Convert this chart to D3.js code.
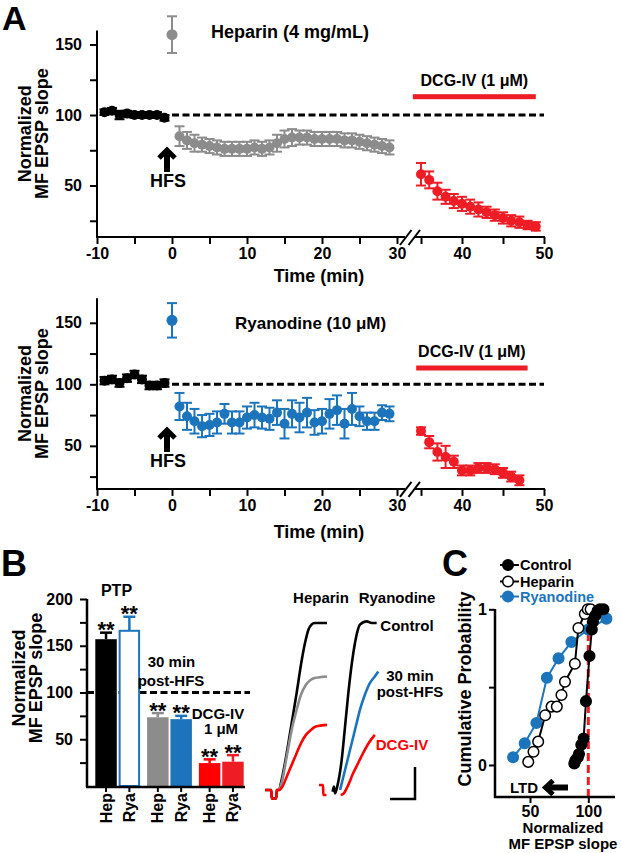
<!DOCTYPE html>
<html><head><meta charset="utf-8">
<script src="https://cdn.jsdelivr.net/npm/d3@7"></script>
<style>body{margin:0;background:#fff}svg{display:block}</style>
</head><body><svg id="c" width="622" height="853"></svg>
<script>
// ---------------- DATA ----------------
// Panel A (time in min)
const baseTimes = [-9,-8,-7,-6,-5,-4,-3,-2,-1];
const postTimes = [1,2,3,4,5,6,7,8,9,10,11,12,13,14,15,16,17,18,19,20,21,22,23,24,25,26,27,28,29];
const hepDcgTimes = [35,36,37,38,39,40,41,42,43,44,45,46,47,48,49];
const ryaDcgTimes = [35,36,37,38,39,40,41,42,43,44,45,46,47];

const hepBaseVals = [102,103,100,101,100,100,100,100,98];
const hepBaseErr  = [2,2,3,2,2,2,2,2,2];
const hepPTP = [157, 13];
const hepPostVals = [85,82,80,79,78,77,76,76,76,76,77,76,77,80,83,84,84,84,83,83,83,83,82,82,81,80,79,78,77];
const hepPostErr  = [7,6,6,5,5,5,5,5,5,5,5,5,5,6,6,6,5,5,5,5,5,5,5,5,5,5,5,5,5];
const hepDcgVals = [58,54,46,42,39,37,35,33,31,29,27,25,24,22,21];
const hepDcgErr  = [8,6,6,5,5,5,5,5,4,4,4,4,4,3,3];
const hepDcgPeriod = [33.3, 49];

const ryaBaseVals = [103,104,101,105,108,104,99,99,101];
const ryaBaseErr  = [3,3,3,3,3,3,3,3,3];
const ryaPTP = [152, 14];
const ryaPostVals = [82,74,70,66,67,69,76,69,69,73,75,73,72,77,68,76,73,77,69,70,76,79,68,80,74,70,70,77,76];
const ryaPostErr  = [11,11,10,9,9,9,8,9,9,9,10,9,9,10,12,11,12,12,10,10,12,12,12,13,8,7,7,6,6];
const ryaDcgVals = [62,53,45,41,37,30,30,32,32,31,28,25,22];
const ryaDcgErr  = [3,5,7,9,5,4,4,4,4,4,4,4,4];
const ryaDcgPeriod = [34, 48];

const refLine = [0, 50];
const yTicksA = [25,50,75,100,125,150];
const yLabelsA = [50,100,150];
const xTicksA = [-10,-5,0,5,10,15,20,25,30,35,40,45,50];
const xLabelsA = [-10,0,10,20,30,40,50];

// Panel B
const barGroups = ['PTP','30 min','DCG-IV'];
const barDrugs = ['Hep','Rya'];
const barVals = [157,166,73.5,71.5,24.5,26];
const barErr  = [7,15,4.5,3.5,4,7];
const barSig  = ['**','**','**','**','**','**'];
const yTicksB = [25,50,75,100,125,150,175,200];
const yLabelsB = [50,100,150,200];

// Traces (ms, normalized amplitude)
const trHepCtrl = [[0,0],[1.0,0],[1.1,-0.05],[1.8,-0.05],[1.9,0],[2.3,0],[2.5,0.03],[2.8,0.08],[3.5,0.22],[4.3,0.40],[5.1,0.58],[5.8,0.75],[6.45,0.88],[7.0,0.96],[7.5,0.99],[8.0,1.0],[9.0,1.0],[10,1.0]];
const trHepPost = [[2.3,0],[2.8,0.06],[3.5,0.2],[4.3,0.36],[5.1,0.48],[5.8,0.57],[6.6,0.63],[7.4,0.66],[8.0,0.67],[10,0.68]];
const trHepDcg  = [[0,0],[1.0,0],[1.1,-0.05],[1.8,-0.05],[1.9,0],[2.3,0],[2.8,0.02],[3.5,0.08],[4.3,0.15],[5.1,0.22],[5.8,0.28],[6.6,0.33],[7.4,0.36],[8.2,0.38],[10,0.39]];
const trRyaArt  = [[0,0.03],[0.65,0.03],[0.7,-0.03],[1.2,-0.03]];
const trRyaCtrl = [[2.2,-0.01],[2.4,0.02],[2.6,-0.02],[3.0,0.03],[3.66,0.18],[4.2,0.38],[4.73,0.58],[5.3,0.76],[5.8,0.88],[6.2,0.95],[6.6,0.99],[7.7,1.01],[8.5,1.0],[9.3,1.0]];
const trRyaPost = [[3.4,0],[4.2,0.12],[5.27,0.28],[6.0,0.39],[6.6,0.48],[7.4,0.57],[8.2,0.64],[9.0,0.68],[9.56,0.71]];
const trRyaDcg  = [[3.5,-0.03],[4.0,-0.02],[4.6,0.02],[5.5,0.10],[6.3,0.16],[7.1,0.22],[8.0,0.28],[9.0,0.33]];

// Panel C cumulative distributions
const cdfCtrlX = [88,89,91,92,94,96,98,101,103,104,106,108,110,113];
const cdfCtrlY = [0.01,0.03,0.05,0.07,0.13,0.17,0.41,0.70,0.87,0.92,0.96,0.99,1.0,1.0];
const cdfHepX = [48.5,53,57,63,68.5,73,77,80,88.5,91.5,97,99.5,102];
const cdfHepY = [0.02,0.085,0.15,0.32,0.375,0.375,0.45,0.535,0.65,0.88,0.97,1.0,1.0];
const cdfRyaX = [35.5,45.5,55.5,64.5,74.5,85.5,100,115.5];
const cdfRyaY = [0.05,0.14,0.27,0.56,0.685,0.79,0.87,0.94];
const legendC = ['Control','Heparin','Ryanodine'];

// ---------------- DRAW ----------------
const F = "'Liberation Sans', Arial, Helvetica, sans-serif";
const GRAY='#8c8c8c', BLUE='#1c75bc', RED='#ee1c25';
const svg = d3.select('#c');
svg.append('rect').attr('width',622).attr('height',853).attr('fill','#fff');

function txt(g, x, y, s, size, o={}) {
  const t = g.append('text').attr('x',x).attr('y',y).text(s)
    .attr('font-size',size).attr('font-weight','bold').attr('font-family',F)
    .attr('text-anchor',o.anchor||'start').attr('fill',o.fill||'#000');
  if (o.rot) t.attr('transform',`rotate(-90,${x},${y})`);
  return t;
}
function styleAxis(g, size) {
  g.attr('font-family',F).attr('font-size',size).attr('font-weight','bold');
  g.select('path.domain').remove();
  g.selectAll('line').attr('stroke','#000').attr('stroke-width',2);
  g.selectAll('text').attr('fill','#000');
}
function dots(g, xs, ys, es, x, y, color, r) {
  const d = xs.map((t,i)=>({t, v:ys[i], e:es[i]}));
  g.selectAll(null).data(d).enter().append('line')
    .attr('x1',p=>x(p.t)).attr('x2',p=>x(p.t)).attr('y1',p=>y(p.v-p.e)).attr('y2',p=>y(p.v+p.e))
    .attr('stroke',color).attr('stroke-width',2);
  [-1,1].forEach(s=>{
    g.selectAll(null).data(d).enter().append('line')
      .attr('x1',p=>x(p.t)-5).attr('x2',p=>x(p.t)+5).attr('y1',p=>y(p.v+s*p.e)).attr('y2',p=>y(p.v+s*p.e))
      .attr('stroke',color).attr('stroke-width',2);
  });
  g.selectAll(null).data(d).enter().append('circle')
    .attr('cx',p=>x(p.t)).attr('cy',p=>y(p.v)).attr('r',r).attr('fill',color);
}
function upArrow(g, x, top, bottom) {
  g.append('line').attr('x1',x).attr('x2',x).attr('y1',top+4).attr('y2',bottom).attr('stroke','#000').attr('stroke-width',6);
  g.append('polyline').attr('points',`${x-8},${top+11} ${x},${top+3} ${x+8},${top+11}`)
    .attr('fill','none').attr('stroke','#000').attr('stroke-width',5).attr('stroke-linejoin','miter');
}

const xA = d3.scaleLinear().domain([-10,30,35,50]).range([97,397,421,544]);

function panelA(o) {
  const g = svg.append('g');
  const y = o.y;
  const axisY = y.range()[0], topY = y.range()[1];
  g.append('line').attr('x1',xA(refLine[0])).attr('x2',xA(refLine[1])).attr('y1',y(100)).attr('y2',y(100))
    .attr('stroke','#000').attr('stroke-width',3).attr('stroke-dasharray','7,3.5');
  const ya = g.append('g').attr('transform','translate(97,0)')
    .call(d3.axisLeft(y).tickValues(yTicksA).tickSize(7).tickPadding(8).tickFormat(d=>yLabelsA.includes(d)?d:''));
  styleAxis(ya,16);
  g.append('line').attr('x1',97).attr('x2',97).attr('y1',topY).attr('y2',axisY+1).attr('stroke','#000').attr('stroke-width',2);
  const xa = g.append('g').attr('transform',`translate(0,${axisY})`)
    .call(d3.axisBottom(xA).tickValues(xTicksA).tickSize(7).tickPadding(4).tickFormat(d=>xLabelsA.includes(d)?d:''));
  styleAxis(xa,16);
  g.append('line').attr('x1',96).attr('x2',405).attr('y1',axisY).attr('y2',axisY).attr('stroke','#000').attr('stroke-width',2);
  g.append('line').attr('x1',414).attr('x2',545).attr('y1',axisY).attr('y2',axisY).attr('stroke','#000').attr('stroke-width',2);
  [[400,411.5],[408.5,420]].forEach(([a,b])=>{
    g.append('line').attr('x1',a).attr('x2',b).attr('y1',axisY+8).attr('y2',axisY-7).attr('stroke','#000').attr('stroke-width',2);
  });
  const cy = (axisY+topY)/2;
  txt(g, 31, cy, 'Normalized', 18, {anchor:'middle', rot:true});
  txt(g, 48, cy, 'MF EPSP slope', 18, {anchor:'middle', rot:true});
  txt(g, 319, o.timeY, 'Time (min)', 18, {anchor:'middle'});
  g.append('rect').attr('x',xA(o.period[0])).attr('width',xA(o.period[1])-xA(o.period[0]))
    .attr('y',o.barY-2.5).attr('height',5).attr('fill',RED);
  txt(g, (xA(o.period[0])+xA(o.period[1]))/2, o.barY-11, 'DCG-IV (1 μM)', 16, {anchor:'middle'});
  dots(g, baseTimes, o.base, o.baseErr, xA, y, '#000', 5);
  dots(g, [0], [o.ptp[0]], [o.ptp[1]], xA, y, o.color, 5.5);
  dots(g, postTimes, o.post, o.postErr, xA, y, o.color, 5);
  dots(g, o.dcgT, o.dcg, o.dcgErr, xA, y, RED, 5);
  txt(g, o.titleX, o.titleY, o.title, o.titleSize, {});
  upArrow(g, xA(0)-5, o.arrowTop, o.arrowTop+25);
  txt(g, xA(0)-4, o.arrowTop+40, 'HFS', 18, {anchor:'middle'});
}

panelA({
  y: d3.scaleLinear().domain([13.5,160]).range([237,30.4]),
  base: hepBaseVals, baseErr: hepBaseErr, ptp: hepPTP, post: hepPostVals, postErr: hepPostErr,
  dcgT: hepDcgTimes, dcg: hepDcgVals, dcgErr: hepDcgErr, color: GRAY, period: hepDcgPeriod,
  barY: 96.7, timeY: 281.5, title: 'Heparin (4 mg/mL)', titleX: 211, titleY: 38, titleSize: 18, arrowTop: 147
});
panelA({
  y: d3.scaleLinear().domain([15,170]).range([488.9,298.2]),
  base: ryaBaseVals, baseErr: ryaBaseErr, ptp: ryaPTP, post: ryaPostVals, postErr: ryaPostErr,
  dcgT: ryaDcgTimes, dcg: ryaDcgVals, dcgErr: ryaDcgErr, color: BLUE, period: ryaDcgPeriod,
  barY: 368, timeY: 538, title: 'Ryanodine (10 μM)', titleX: 235, titleY: 329, titleSize: 17, arrowTop: 427
});
txt(svg, 2, 30, 'A', 34, {});

// ---------------- Panel B ----------------
(function(){
  const g = svg.append('g');
  const y = d3.scaleLinear().domain([0,200]).range([786,599]);
  const gx = d3.scaleBand().domain(barGroups).range([95.3,243.7]).paddingInner(0.135);
  const ix = d3.scaleBand().domain(barDrugs).range([0,gx.bandwidth()]).paddingInner(0.08);
  const fills = ['#000','#fff',GRAY,BLUE,'#ff0000',RED];
  const strokes = ['#000',BLUE,GRAY,BLUE,'#ff0000',RED];
  const data = barVals.map((v,i)=>({v, e:barErr[i], g:barGroups[Math.floor(i/2)], d:barDrugs[i%2], i}));
  const bx = p => gx(p.g)+ix(p.d);
  const bw = ix.bandwidth();
  g.append('line').attr('x1',87).attr('x2',250).attr('y1',y(100)).attr('y2',y(100))
    .attr('stroke','#000').attr('stroke-width',3).attr('stroke-dasharray','7,3.5');
  data.forEach(p=>{
    const cx = bx(p)+bw/2;
    g.append('line').attr('x1',cx).attr('x2',cx).attr('y1',y(p.v)).attr('y2',y(p.v+p.e)).attr('stroke',strokes[p.i]).attr('stroke-width',2.5);
    g.append('line').attr('x1',cx-6).attr('x2',cx+6).attr('y1',y(p.v+p.e)).attr('y2',y(p.v+p.e)).attr('stroke',strokes[p.i]).attr('stroke-width',2.5);
  });
  g.selectAll(null).data(data).enter().append('rect')
    .attr('x',p=>bx(p)+(p.i===1?1:0)).attr('width',p=>bw-(p.i===1?2:0))
    .attr('y',p=>y(p.v)).attr('height',p=>y(0)-y(p.v))
    .attr('fill',p=>fills[p.i]).attr('stroke',p=>p.i===1?BLUE:'none').attr('stroke-width',2);
  data.forEach(p=>{
    txt(g, bx(p)+bw/2, y(p.v+p.e)-8+12.5, barSig[p.i], 22, {anchor:'middle'});
  });
  const ya = g.append('g').attr('transform','translate(87,0)')
    .call(d3.axisLeft(y).tickValues(yTicksB).tickSize(7).tickPadding(7).tickFormat(d=>yLabelsB.includes(d)?d:''));
  styleAxis(ya,16);
  g.append('line').attr('x1',87).attr('x2',87).attr('y1',599).attr('y2',787).attr('stroke','#000').attr('stroke-width',2.5);
  g.append('line').attr('x1',86).attr('x2',245).attr('y1',787).attr('y2',787).attr('stroke','#000').attr('stroke-width',2.5);
  data.forEach(p=>{
    const cx = bx(p)+bw/2;
    g.append('line').attr('x1',cx).attr('x2',cx).attr('y1',787).attr('y2',792).attr('stroke','#000').attr('stroke-width',2);
    txt(g, cx+5.5, 793, p.d, 16, {anchor:'end', rot:true});
  });
  txt(g, 25, 678, 'Normalized', 18, {anchor:'middle', rot:true});
  txt(g, 42, 678, 'MF EPSP slope', 18, {anchor:'middle', rot:true});
  txt(g, 116.5, 596, 'PTP', 16, {anchor:'middle'});
  txt(g, 171.5, 666.5, '30 min', 15, {anchor:'middle'});
  txt(g, 171, 685.5, 'post-HFS', 15, {anchor:'middle'});
  txt(g, 218, 718.5, 'DCG-IV', 15, {anchor:'middle'});
  txt(g, 221, 734, '1 μM', 15, {anchor:'middle'});
  txt(svg, 1, 576, 'B', 36, {});
})();

// ---------------- Traces ----------------
(function(){
  const g = svg.append('g');
  const ty = d3.scaleLinear().domain([0,1]).range([790,623]);
  const hx = d3.scaleLinear().domain([0,10]).range([265,327]);
  const rx = d3.scaleLinear().domain([0,10]).range([319,381]);
  const draw = (arr, x, color) => g.append('path').datum(arr)
    .attr('d', d3.line().x(d=>x(d[0])).y(d=>ty(d[1])).curve(d3.curveMonotoneX))
    .attr('fill','none').attr('stroke',color).attr('stroke-width',2.6).attr('stroke-linejoin','round');
  draw(trHepCtrl, hx, '#000');
  draw(trHepPost, hx, GRAY);
  draw(trHepDcg, hx, '#ff0000');
  draw(trRyaArt, rx, '#ff0000');
  draw(trRyaCtrl, rx, '#000');
  draw(trRyaPost, rx, BLUE);
  draw(trRyaDcg, rx, '#ff0000');
  g.append('path').attr('d','M390,799H415V767').attr('fill','none').attr('stroke','#000').attr('stroke-width',2.5);
  txt(g, 321, 603, 'Heparin', 15, {anchor:'middle'});
  txt(g, 397, 603, 'Ryanodine', 15, {anchor:'middle'});
  txt(g, 407, 631, 'Control', 15, {anchor:'middle'});
  txt(g, 410, 681, '30 min', 15, {anchor:'middle'});
  txt(g, 410, 697, 'post-HFS', 15, {anchor:'middle'});
  txt(g, 402, 750, 'DCG-IV', 15, {anchor:'middle', fill:'#ff0000'});
})();

// ---------------- Panel C ----------------
(function(){
  const g = svg.append('g');
  const x = d3.scaleLinear().domain([50,100]).range([530,588.3]);
  const y = d3.scaleLinear().domain([0,1]).range([765,609.3]);
  g.append('line').attr('x1',x(100)).attr('x2',x(100)).attr('y1',609).attr('y2',797)
    .attr('stroke',RED).attr('stroke-width',3).attr('stroke-dasharray','8,4');
  const series = [
    {xs:cdfRyaX, ys:cdfRyaY, line:BLUE, fill:BLUE, stroke:BLUE},
    {xs:cdfHepX, ys:cdfHepY, line:'#000', fill:'#fff', stroke:'#000'},
    {xs:cdfCtrlX, ys:cdfCtrlY, line:'#000', fill:'#000', stroke:'#000'}
  ];
  series.forEach(s=>{
    const pts = s.xs.map((v,i)=>[v, s.ys[i]]);
    g.append('path').datum(pts).attr('d', d3.line().x(d=>x(d[0])).y(d=>y(d[1])))
      .attr('fill','none').attr('stroke',s.line).attr('stroke-width',2);
    g.selectAll(null).data(pts).enter().append('circle')
      .attr('cx',d=>x(d[0])).attr('cy',d=>y(d[1])).attr('r',5.3)
      .attr('fill',s.fill).attr('stroke',s.stroke).attr('stroke-width',1.5);
  });
  const ya = g.append('g').attr('transform','translate(495,0)')
    .call(d3.axisLeft(y).tickValues([0,0.5,1]).tickSize(6).tickPadding(2).tickFormat(d=>d===0.5?'':d));
  styleAxis(ya,16);
  const xa = g.append('g').attr('transform','translate(0,797)')
    .call(d3.axisBottom(x).tickValues([50,100]).tickSize(6).tickPadding(3));
  styleAxis(xa,16);
  g.append('line').attr('x1',495).attr('x2',495).attr('y1',609).attr('y2',798).attr('stroke','#000').attr('stroke-width',2.5);
  g.append('line').attr('x1',494).attr('x2',615).attr('y1',797).attr('y2',797).attr('stroke','#000').attr('stroke-width',2.5);
  txt(g, 471, 689, 'Cumulative Probability', 18, {anchor:'middle', rot:true});
  txt(g, 563, 833, 'Normalized', 15, {anchor:'middle'});
  txt(g, 563, 849, 'MF EPSP slope', 15, {anchor:'middle'});
  txt(g, 524, 792.5, 'LTD', 15, {anchor:'middle'});
  g.append('line').attr('x1',549).attr('x2',568).attr('y1',787.5).attr('y2',787.5).attr('stroke','#000').attr('stroke-width',6);
  g.append('polyline').attr('points','553,780.5 545.5,787.5 553,794.5').attr('fill','none').attr('stroke','#000').attr('stroke-width',5);
  const rowsY = [565, 581.5, 596.5];
  const lf = [{f:'#000',s:'#000',c:'#000'},{f:'#fff',s:'#000',c:'#000'},{f:BLUE,s:BLUE,c:BLUE}];
  legendC.forEach((name,i)=>{
    g.append('line').attr('x1',500).attr('x2',519).attr('y1',rowsY[i]).attr('y2',rowsY[i]).attr('stroke',lf[i].c).attr('stroke-width',2);
    g.append('circle').attr('cx',508).attr('cy',rowsY[i]).attr('r',5.3).attr('fill',lf[i].f).attr('stroke',lf[i].s).attr('stroke-width',1.5);
    txt(g, 520, rowsY[i]+5, name, 14.5, {fill:lf[i].c});
  });
  txt(svg, 442, 576, 'C', 36, {});
})();
</script>
</body></html>
